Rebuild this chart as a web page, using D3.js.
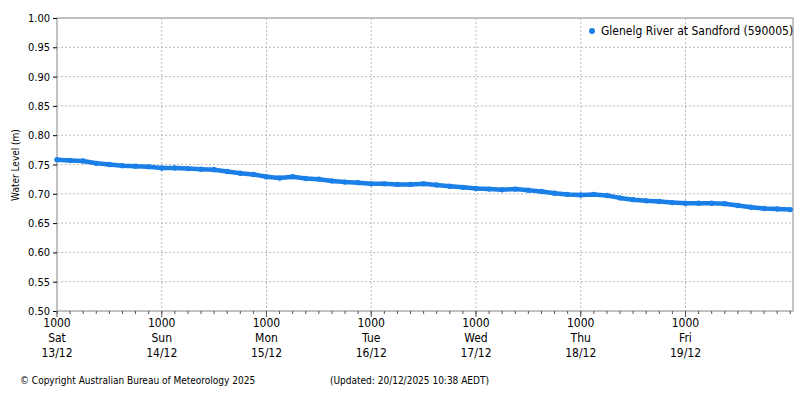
<!DOCTYPE html><html><head><meta charset="utf-8">
<script src="https://cdn.jsdelivr.net/npm/d3@7"></script>
<style>body{margin:0;background:#fff}text{font-family:"DejaVu Sans Condensed","DejaVu Sans",sans-serif}</style></head><body>
<svg id="c" width="800" height="400"></svg>
<script>
const startTime = new Date(2025,11,13,10,0);
const stepHours = 3;
const waterLevel = [
0.758,0.757,0.756,0.752,0.750,0.748,0.747,0.746,
0.744,0.744,0.743,0.742,0.741,0.738,0.735,0.733,
0.729,0.727,0.729,0.726,0.725,0.722,0.720,0.719,
0.717,0.717,0.716,0.716,0.717,0.715,0.713,0.711,
0.709,0.708,0.707,0.708,0.706,0.704,0.701,0.699,
0.698,0.699,0.697,0.693,0.690,0.688,0.687,0.685,
0.684,0.684,0.684,0.683,0.680,0.677,0.675,0.674,
0.673];
const yTicks = [0.50,0.55,0.60,0.65,0.70,0.75,0.80,0.85,0.90,0.95,1.00];
const dayLabels = ["Sat","Sun","Mon","Tue","Wed","Thu","Fri"];
const dateLabels = ["13/12","14/12","15/12","16/12","17/12","18/12","19/12"];
const seriesName = "Glenelg River at Sandford (590005)";

const data = waterLevel.map((v,i)=>({t:new Date(+startTime+i*stepHours*3600e3),v}));
const svg = d3.select("#c");
const L=57,R=793,T=18,B=311;
const x = d3.scaleTime().domain([startTime,new Date(2025,11,20,10,38)]).range([L,R]);
const y = d3.scaleLinear().domain([0.5,1.0]).range([B,T]);
svg.append("rect").attr("x",L).attr("y",T).attr("width",R-L).attr("height",B-T).attr("fill","none").attr("stroke","#888");
const dayTimes = dayLabels.map((d,i)=>new Date(+startTime+i*86400e3));
svg.append("g").selectAll("line").data(yTicks).join("line").attr("x1",L).attr("x2",R).attr("y1",d=>y(d)).attr("y2",d=>y(d)).attr("stroke","#bbb").attr("stroke-dasharray","2,2");
svg.append("g").selectAll("line").data(dayTimes).join("line").attr("x1",d=>x(d)).attr("x2",d=>x(d)).attr("y1",T).attr("y2",B).attr("stroke","#bbb").attr("stroke-dasharray","2,2");
const ya = svg.append("g").attr("transform",`translate(${L},0)`).call(d3.axisLeft(y).tickValues(yTicks).tickFormat(d3.format(".2f")).tickSize(4));
ya.select(".domain").remove();ya.selectAll("text").attr("font-size",11).attr("fill","#000");
const minor = d3.range(0,8*7+1).map(i=>new Date(+startTime+i*3*3600e3)).filter(d=>d<=x.domain()[1]);
svg.append("g").selectAll("line").data(minor).join("line").attr("x1",d=>x(d)).attr("x2",d=>x(d)).attr("y1",B).attr("y2",B+3).attr("stroke","#555");
svg.append("g").selectAll("line").data(dayTimes).join("line").attr("x1",d=>x(d)).attr("x2",d=>x(d)).attr("y1",B).attr("y2",B+6).attr("stroke","#555");
const xl = svg.append("g").selectAll("text").data(dayTimes).join("text").attr("x",d=>x(d)).attr("text-anchor","middle").attr("font-size",12);
xl.append("tspan").attr("y",327).attr("x",d=>x(d)).text("1000");
xl.append("tspan").attr("y",342).attr("x",d=>x(d)).text((d,i)=>dayLabels[i]);
xl.append("tspan").attr("y",357).attr("x",d=>x(d)).text((d,i)=>dateLabels[i]);
svg.append("text").attr("transform","translate(19,165) rotate(-90)").attr("text-anchor","middle").attr("font-size",10).attr("font-family","DejaVu Sans Mono").text("Water Level (m)");
svg.append("path").datum(data).attr("fill","none").attr("stroke","#1a7fe6").attr("stroke-width",4.5).attr("stroke-linejoin","round").attr("d",d3.line().x(d=>x(d.t)).y(d=>y(d.v)));
svg.append("g").selectAll("circle").data(data).join("circle").attr("cx",d=>x(d.t)).attr("cy",d=>y(d.v)).attr("r",2.7).attr("fill","#1a7fe6");
svg.append("circle").attr("cx",592).attr("cy",31).attr("r",3).attr("fill","#1a7fe6");
svg.append("text").attr("x",601).attr("y",35).attr("font-size",12).text(seriesName);
svg.append("text").attr("x",20).attr("y",384).attr("font-size",10).text("© Copyright Australian Bureau of Meteorology 2025");
svg.append("text").attr("x",330).attr("y",384).attr("font-size",10).text("(Updated: 20/12/2025 10:38 AEDT)");
</script></body></html>
